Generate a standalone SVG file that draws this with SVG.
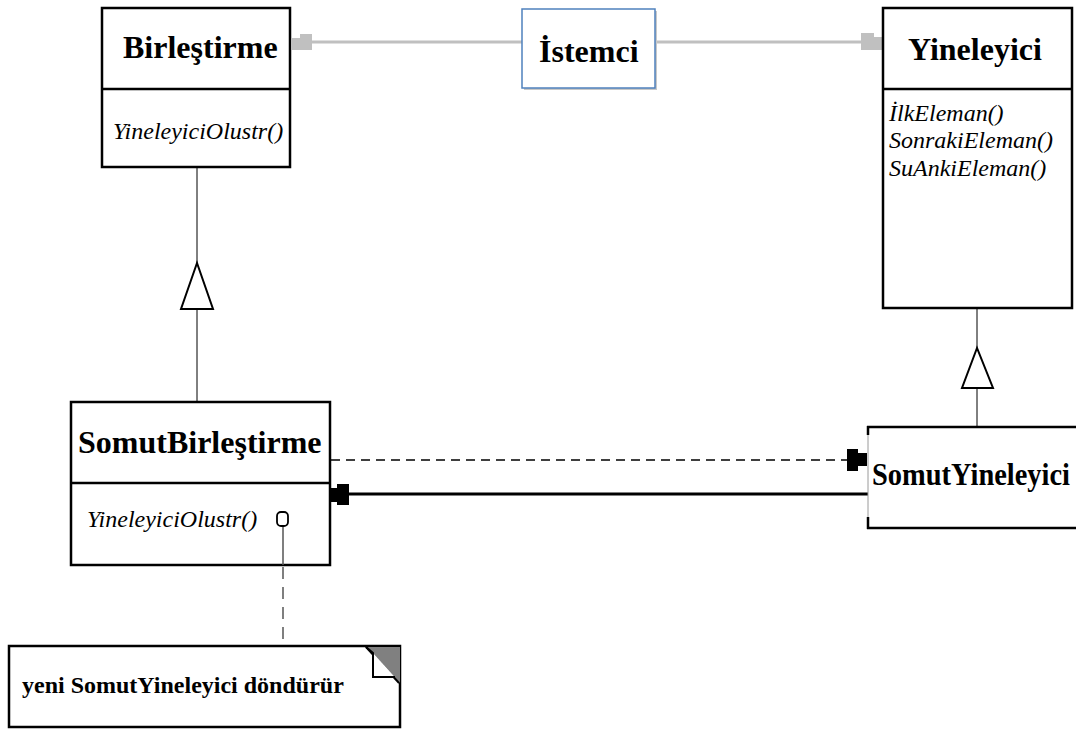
<svg xmlns="http://www.w3.org/2000/svg" width="1076" height="729" viewBox="0 0 1076 729">
  <style>
    .box { fill: #ffffff; stroke: #000000; stroke-width: 2.5; }
    .div { stroke: #000000; stroke-width: 2.5; }
    .title { font-family: "Liberation Serif", "Times New Roman", serif; font-weight: bold; font-size: 32px; fill: #000; }
    .op { font-family: "Liberation Serif", "Times New Roman", serif; font-style: italic; font-size: 24px; fill: #000; }
    .note { font-family: "Liberation Serif", "Times New Roman", serif; font-weight: bold; font-size: 24px; fill: #000; }
    .thin { stroke: #000; stroke-width: 1; fill: none; }
    .grey { stroke: #c0c0c0; stroke-width: 3; fill: none; }
    .dash { stroke: #000; stroke-width: 1.5; stroke-dasharray: 9 6; fill: none; }
    .notelink { stroke: #555; stroke-width: 1.5; stroke-dasharray: 12 8; fill: none; }
    .tri { fill: #ffffff; stroke: #000; stroke-width: 2; }
  </style>
  <rect width="1076" height="729" fill="#ffffff"/>

  <!-- connectors -->
  <g id="connectors">
    <!-- client associations -->
    <line class="grey" x1="312" y1="42" x2="522" y2="42"/>
    <polygon fill="#c0c0c0" points="292,38 300,38 300,34 312,34 312,50 292,50"/>
    <line class="grey" x1="657" y1="42" x2="861" y2="42"/>
    <polygon fill="#c0c0c0" points="861,33 874,33 874,37 882,37 882,50 861,50"/>

    <!-- generalization: SomutBirlestirme -> Birlestirme -->
    <line class="thin" x1="197" y1="167" x2="197" y2="263"/>
    <line class="thin" x1="197" y1="309" x2="197" y2="402"/>
    <polygon class="tri" points="197,263 181,309 213,309"/>

    <!-- generalization: SomutYineleyici -> Yineleyici -->
    <line class="thin" x1="977" y1="308" x2="977" y2="348"/>
    <line class="thin" x1="977" y1="388" x2="977" y2="427"/>
    <polygon class="tri" points="977,348 962,388 993,388"/>

    <!-- dependency: creates -->
    <line class="dash" x1="331" y1="460" x2="847" y2="460"/>
    <polygon fill="#000" points="847,449 858,449 858,453 867,453 867,466 858,466 858,471 847,471"/>

    <!-- association back to the aggregate -->
    <line x1="349" y1="494" x2="868" y2="494" stroke="#000" stroke-width="3"/>
    <polygon fill="#000" points="331,488 337,488 337,484 349,484 349,505 337,505 337,502 331,502"/>

    <!-- note link -->
    <line class="notelink" x1="283" y1="527" x2="283" y2="645"/>
  </g>

  <!-- Birlestirme -->
  <g id="birlestirme">
    <rect class="box" x="102" y="8" width="188" height="159"/>
    <line class="div" x1="102" y1="89" x2="290" y2="89"/>
    <text class="title" x="123" y="58">Birleştirme</text>
    <text class="op" x="113" y="139">YineleyiciOlustr()</text>
  </g>

  <!-- Istemci -->
  <g id="istemci">
    <rect x="524" y="11" width="133" height="79" fill="#c8c8c8"/>
    <rect x="522" y="9" width="133" height="79" fill="#fff" stroke="#4f81bd" stroke-width="1.5"/>
    <text class="title" x="539" y="62">İstemci</text>
  </g>

  <!-- Yineleyici -->
  <g id="yineleyici">
    <rect class="box" x="883" y="8" width="189" height="300"/>
    <line class="div" x1="883" y1="89" x2="1072" y2="89"/>
    <text class="title" x="908" y="60">Yineleyici</text>
    <text class="op" x="889" y="121">İlkEleman()</text>
    <text class="op" x="889" y="148">SonrakiEleman()</text>
    <text class="op" x="889" y="176">SuAnkiEleman()</text>
  </g>

  <!-- SomutBirlestirme -->
  <g id="somutbirlestirme">
    <rect class="box" x="71" y="402" width="259" height="163"/>
    <line class="div" x1="71" y1="483" x2="330" y2="483"/>
    <text class="title" x="78" y="453">SomutBirleştirme</text>
    <text class="op" x="87" y="527">YineleyiciOlustr()</text>
    <!-- note anchor on the operation -->
    <line x1="283" y1="525" x2="283" y2="565" stroke="#555" stroke-width="1.5"/>
    <rect x="277" y="512" width="11" height="14" rx="4" fill="#fff" stroke="#000" stroke-width="1.8"/>
  </g>

  <!-- SomutYineleyici -->
  <g id="somutyineleyici">
    <rect x="868" y="427" width="220" height="101" fill="#fff"/>
    <line x1="867" y1="427" x2="1076" y2="427" stroke="#000" stroke-width="2.5"/>
    <line x1="867" y1="528" x2="1076" y2="528" stroke="#000" stroke-width="2.5"/>
    <line x1="868" y1="427" x2="868" y2="528" stroke="#9a9a9a" stroke-width="1"/>
    <line x1="868" y1="426" x2="868" y2="435" stroke="#000" stroke-width="2.5"/>
    <line x1="868" y1="517" x2="868" y2="529" stroke="#000" stroke-width="2.5"/>
    <text class="title" x="872" y="485" textLength="198" lengthAdjust="spacingAndGlyphs">SomutYineleyici</text>
  </g>

  <!-- note -->
  <g id="note">
    <rect class="box" x="9" y="646" width="391" height="81"/>
    <polygon points="365,647 400,647 400,683" fill="#808080"/>
    <polyline points="366,647 373,653 373,677 395,677" fill="none" stroke="#000" stroke-width="2"/>
    <line x1="366" y1="647" x2="399" y2="683" stroke="#000" stroke-width="2"/>
    <polygon points="374,654 374,676 394,676" fill="#fff"/>
    <text class="note" x="22" y="693">yeni SomutYineleyici döndürür</text>
  </g>
</svg>
